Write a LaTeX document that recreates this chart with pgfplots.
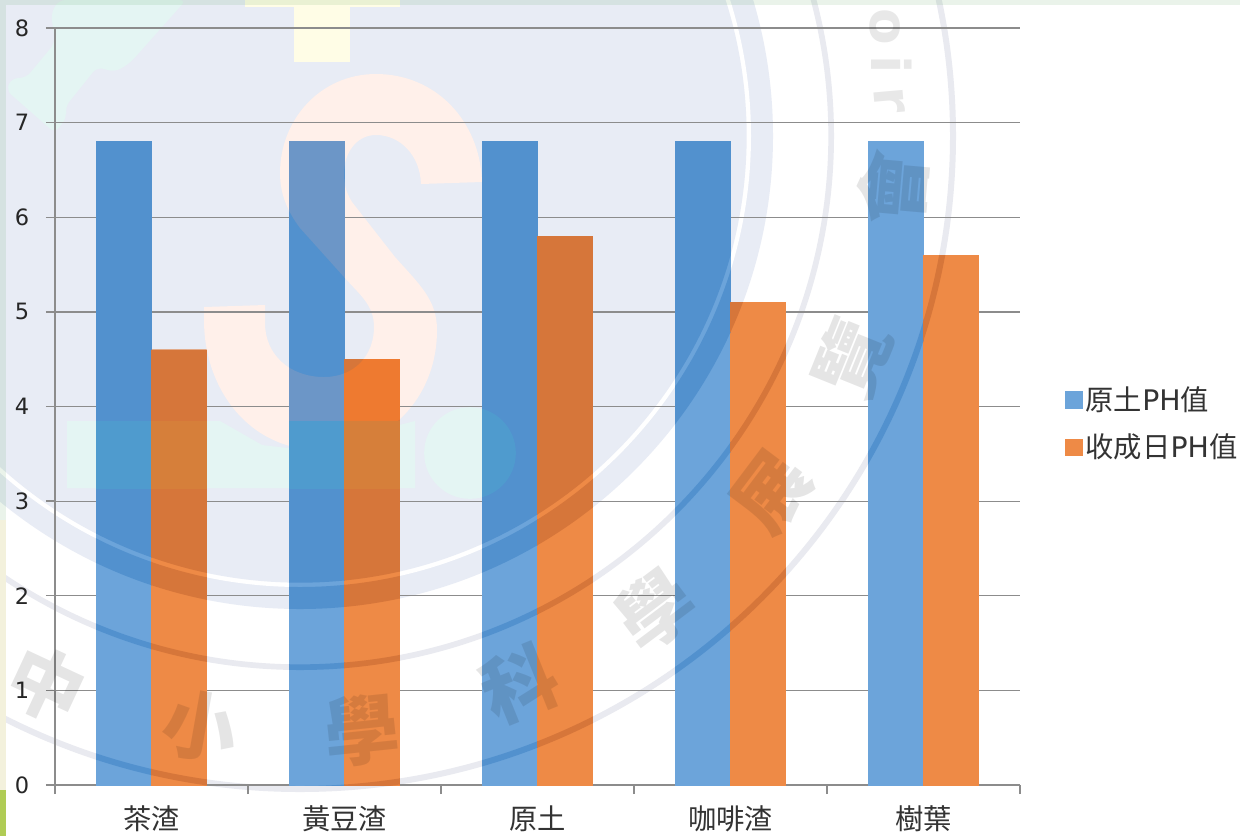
\documentclass[border=0pt]{standalone}
\usepackage{fontspec}
\usepackage{pgfplots}
\usepackage{pgfplotstable}
\pgfplotsset{compat=1.18}
\setmainfont{DejaVu Sans}
\newfontfamily\cjk{Noto Sans CJK TC}
\usetikzlibrary{calc}

\pgfplotstableread{
pos soil harvest
0 6.8 4.6
1 6.8 4.5
2 6.8 5.8
3 6.8 5.1
4 6.8 5.6
}\phdata

\definecolor{barblue}{HTML}{6CA4DA}
\definecolor{barorange}{HTML}{EE8A46}
\definecolor{diskblue}{HTML}{5291CE}
\definecolor{diskorange}{HTML}{D6763A}
\definecolor{sblue}{HTML}{6C96C7}
\definecolor{sorange}{HTML}{EE7A30}
\definecolor{tealblue}{HTML}{4F9BCE}
\definecolor{tealorange}{HTML}{D67F3A}
\definecolor{gridgray}{HTML}{8C8C8C}
\definecolor{paledisk}{HTML}{E8ECF5}
\definecolor{palering}{HTML}{E9EAF0}
\definecolor{palesalmon}{HTML}{FFF0EA}
\definecolor{paleteal}{HTML}{E4F5F3}
\definecolor{paleyellow}{HTML}{FFFDE6}
\definecolor{edgecream}{HTML}{F3F1DC}
\definecolor{edgegreen}{HTML}{B0CC55}

\pgfplotsset{
  basegeom/.style={
    at={(33pt,-471pt)}, anchor=south west,
    scale only axis, width=579pt, height=454.2pt,
    xmin=-0.5, xmax=4.5, ymin=0, ymax=8,
    ybar, clip=true,
  }
}

% One set of bars in the given colours, used again for the tinted regions
\newcommand{\barpass}[2]{%
  \begin{axis}[basegeom, hide axis]
    \addplot[fill=#1, draw=#1, line width=0.2pt, bar width=33pt, bar shift=-16.5pt] table[x=pos,y=soil]{\phdata};
    \addplot[fill=#2, draw=#2, line width=0.2pt, bar width=33pt, bar shift=16.5pt] table[x=pos,y=harvest]{\phdata};
  \end{axis}}

% Outline of the S emblem
\newcommand{\spath}{
  (421,184) .. controls (420,155) and (400,135) .. (376,135)
  .. controls (355,135) and (344,155) .. (344,173)
  .. controls (344,185) and (346,192) .. (352,202)
  -- (395,257) .. controls (420,285) and (437,300) .. (437,330)
  .. controls (437,400) and (385,450) .. (320,450)
  .. controls (250,450) and (204,390) .. (204,320)
  -- (204,307) -- (265,305) -- (265,323)
  .. controls (265,355) and (290,377) .. (324,377)
  .. controls (355,377) and (374,355) .. (374,327)
  .. controls (374,305) and (360,295) .. (344,277)
  -- (300,228) .. controls (288,212) and (280,195) .. (280,173)
  .. controls (280,120) and (320,74) .. (376,74)
  .. controls (435,74) and (480,120) .. (482,182) -- cycle}

\begin{document}
\begin{tikzpicture}
\path[use as bounding box] (0,0) rectangle (744pt,-501.6pt);
\begin{scope}
\clip (0,0) rectangle (744pt,-501.6pt);
\fill[white] (0,0) rectangle (744pt,-501.6pt);

% Pale emblem printed behind the chart
\begin{scope}[x=0.6pt,y=-0.6pt]
  \fill[palering, even odd rule] (180pt,-81.6pt) circle[radius=393.6pt] (180pt,-81.6pt) circle[radius=390pt];
  \fill[palering, even odd rule] (180pt,-81.6pt) circle[radius=320.4pt] (180pt,-81.6pt) circle[radius=317pt];
  \fill[paledisk] (180pt,-81.6pt) circle[radius=283.8pt];
  \fill[white] (180pt,-81.6pt) circle[radius=270.6pt];
  \fill[paledisk] (180pt,-81.6pt) circle[radius=268pt];
  \fill[palesalmon] \spath;
  \fill[paleteal] (67,421) -- (220,421) -- (262,445) -- (320,452) -- (380,430) -- (415,421) -- (415,488) -- (67,488) -- cycle;
  \fill[paleteal] (470,453) circle[radius=27.5pt];
  \fill[paleyellow] (245,0) rectangle (400,7);
  \fill[paleyellow] (294,7) rectangle (350,62);
  \fill[paleteal, rounded corners=4pt] (186,0) -- (130,63) -- (115,72) -- (97,67) -- (65,107) -- (67,117) -- (55,133) -- (6,90) -- (12,78) -- (26,78) -- (55,43) -- (51,13) -- (59,0) -- cycle;
\end{scope}

% Chart axes, grid, bars and legend
\begin{axis}[basegeom,
    axis lines=left, axis line style={-, draw=gridgray, line width=1pt},
    ytick={0,...,8},
    ymajorgrids, grid style={draw=gridgray, line width=0.75pt},
    tick style={draw=gridgray, line width=0.8pt},
    major tick length=5.4pt, tick align=outside,
    xtick={-0.5,0.5,1.5,2.5,3.5,4.5}, xticklabels={},
    extra x ticks={0,1,2,3,4},
    extra x tick labels={{\cjk 茶渣},{\cjk 黃豆渣},{\cjk 原土},{\cjk 咖啡渣},{\cjk 樹葉}},
    extra x tick style={tick style={draw=none}, xmajorgrids=false,
      tick label style={font=\fontsize{17}{18}\selectfont, yshift=-3.4pt, text=black!80}},
    y tick label style={font=\fontsize{13.5}{15}\selectfont, /pgf/number format/assume math mode=true, xshift=-6.5pt, text=black!85},
    legend style={at={(1.0466,0.4775)}, anchor=west, draw=none, fill=none, inner sep=0pt,
      font=\fontsize{17}{18}\selectfont, row sep=8.6pt, text=black!80},
    legend cell align=left,
    legend image code/.code={\fill[#1] (0pt,-5pt) rectangle (10pt,5pt);},
  ]
  \addplot[fill=barblue, draw=barblue, line width=0.2pt, bar width=33pt, bar shift=-16.5pt] table[x=pos,y=soil]{\phdata};
  \addlegendentry{{\cjk 原土}PH{\cjk 值}}
  \addplot[fill=barorange, draw=barorange, line width=0.2pt, bar width=33pt, bar shift=16.5pt] table[x=pos,y=harvest]{\phdata};
  \addlegendentry{{\cjk 收成日}PH{\cjk 值}}
\end{axis}

% Bars seen through the emblem's disc and rings
\begin{scope}[even odd rule]
  \clip
    (180pt,-81.6pt) circle[radius=393.6pt] (180pt,-81.6pt) circle[radius=390pt]
    (180pt,-81.6pt) circle[radius=320.4pt] (180pt,-81.6pt) circle[radius=317pt]
    (180pt,-81.6pt) circle[radius=283.8pt]
    (180pt,-81.6pt) circle[radius=270.6pt] (180pt,-81.6pt) circle[radius=268pt];
  \barpass{diskblue}{diskorange}
\end{scope}
% Bars seen through the S emblem
\begin{scope}
  \begin{scope}[x=0.6pt,y=-0.6pt]
    \clip \spath;
    \begin{scope}[x=1cm,y=1cm]
      \barpass{sblue}{sorange}
    \end{scope}
  \end{scope}
\end{scope}
% Bars seen through the green band and dot
\begin{scope}[x=0.6pt,y=-0.6pt]
  \clip (67,421) rectangle (415,488);
  \begin{scope}[x=1cm,y=1cm]
    \barpass{tealblue}{tealorange}
  \end{scope}
\end{scope}
\begin{scope}[x=0.6pt,y=-0.6pt]
  \clip (470,453) circle[radius=27.5pt];
  \begin{scope}[x=1cm,y=1cm]
    \barpass{tealblue}{tealorange}
  \end{scope}
\end{scope}

% Lettering around the emblem
\begin{scope}[x=0.6pt,y=-0.6pt]
  \tikzset{wm/.style={text=black, text opacity=0.10, font=\cjk\bfseries\fontsize{45}{45}\selectfont, inner sep=0pt}}
  \node[wm, rotate=-25] at (47,684) {中};
  \node[wm, rotate=-10] at (200,726) {小};
  \node[wm, rotate=6]   at (362,730) {學};
  \node[wm, rotate=22]  at (520,684) {科};
  \node[wm, rotate=37]  at (655,610) {學};
  \node[wm, rotate=53]  at (772,492) {展};
  \node[wm, rotate=68]  at (852,358) {覽};
  \node[wm, rotate=85]  at (893,188) {會};
  \tikzset{wl/.style={text=black, text opacity=0.09, font=\bfseries\fontsize{32}{32}\selectfont, inner sep=0pt}}
  \node[wl, rotate=-90, anchor=center] at (885,27) {o};
  \node[wl, rotate=-90, anchor=center] at (892,65) {i};
  \node[wl, rotate=-85, anchor=center] at (890,100) {r};

  % Slide edge showing at the top and left
  \fill[black!40!green!60!gray, opacity=0.10] (0,0) rectangle (1240,5);
  \fill[black!40!green!60!gray, opacity=0.10] (0,5) rectangle (6,520);
  \fill[edgecream] (0,520) rectangle (6,790);
  \fill[edgegreen] (0,790) rectangle (6,836);
\end{scope}
\end{scope}
\end{tikzpicture}
\end{document}
